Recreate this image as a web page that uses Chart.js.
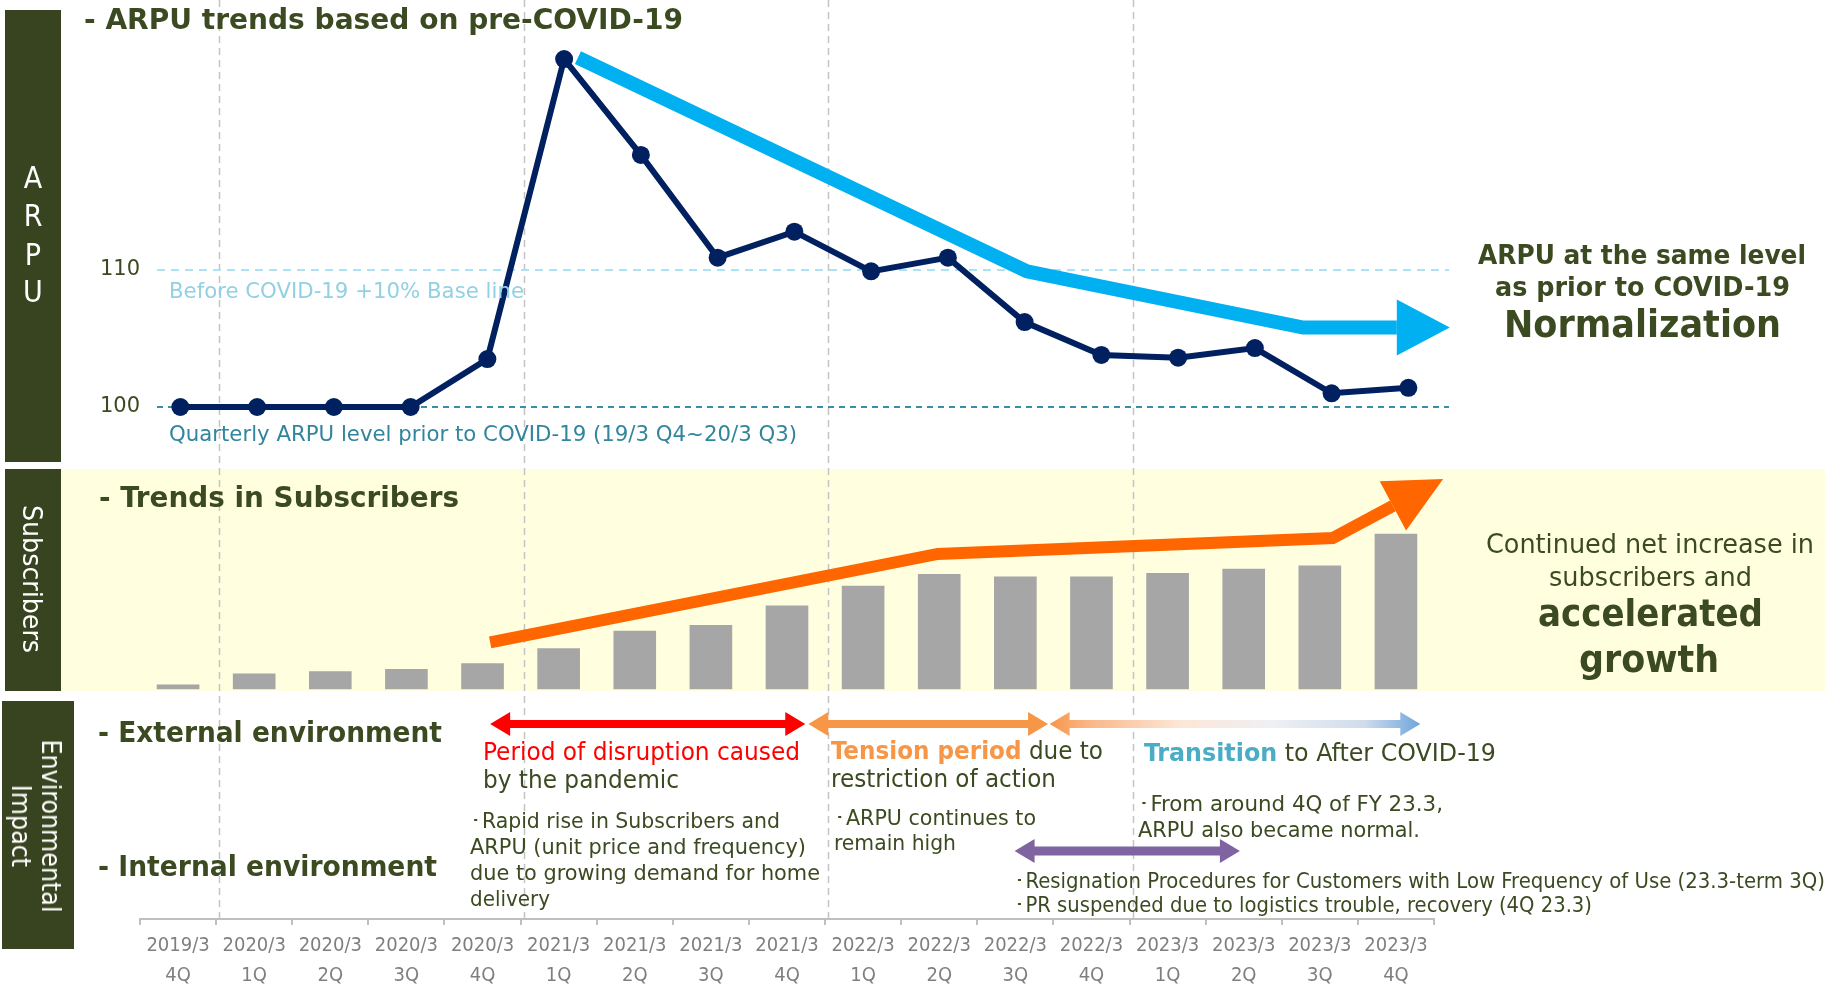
<!DOCTYPE html>
<html>
<head>
<meta charset="utf-8">
<script src="https://cdn.jsdelivr.net/npm/chart.js@4.4.1/dist/chart.umd.min.js"></script>
<style>
  html, body { margin: 0; padding: 0; background: #ffffff; }
  #wrap { position: relative; width: 1825px; height: 986px; overflow: hidden; background: #ffffff; }
  #c { position: absolute; left: 0; top: 0; }
  .t { position: absolute; white-space: nowrap; font-family: "DejaVu Sans Condensed", "DejaVu Sans", sans-serif; color: #3b4a20; line-height: 1.2; }
  .box { position: absolute; background: #384320; }
</style>
</head>
<body>
<div id="wrap">
  <div class="box" style="left:5px;top:10px;width:56px;height:452px;"></div>
  <div class="box" style="left:5px;top:469px;width:56px;height:222px;"></div>
  <div class="box" style="left:2px;top:701px;width:72px;height:248px;"></div>
  <canvas id="c" width="1825" height="986" style="width:1825px;height:986px;"></canvas>
</div>
<script>
// ---------------- DATA ----------------
const fiscalYears = ["2019/3","2020/3","2020/3","2020/3","2020/3","2021/3","2021/3","2021/3","2021/3","2022/3","2022/3","2022/3","2022/3","2023/3","2023/3","2023/3","2023/3"];
const quarters    = ["4Q","1Q","2Q","3Q","4Q","1Q","2Q","3Q","4Q","1Q","2Q","3Q","4Q","1Q","2Q","3Q","4Q"];
// ARPU index (pre-COVID-19 quarterly level = 100)
const arpuIndex = [100, 100, 100, 100, 103.5, 125.4, 118.4, 110.9, 112.8, 109.9, 110.9, 106.2, 103.8, 103.6, 104.3, 101.0, 101.4];
// Subscribers, relative index (2023/3 4Q = 100)
const subscribersIndex = [2.6, 9.7, 11.2, 12.7, 16.4, 26.1, 37.3, 41.0, 53.7, 66.4, 73.9, 72.4, 72.4, 74.6, 77.4, 79.4, 100];
const arpuBaseLevel = 100;      // quarterly ARPU level prior to COVID-19
const arpuPlus10Level = 110;    // before COVID-19 +10% base line
const arpuTicks = [100, 110];

// ---------------- ANNOTATION GEOMETRY (in scale units) ----------------
const arpuTrend = [[5.18, 125.5], [11.03, 109.9], [14.63, 105.8], [16.54, 105.8]];   // xa / ya
const subsTrend = [[4.10, 30.0], [9.98, 87.1], [15.17, 97.4], [16.62, 135.5]];       // x / ys
const periodArrows = [
  { from: 4.10, to: 8.24, y: 724, color: '#ff0000' },
  { from: 8.28, to: 11.43, y: 724, color: '#f79646' },
  { from: 11.45, to: 16.32, y: 724, gradient: true },
  { from: 10.99, to: 13.95, y: 851, color: '#8064a2', shaft: 9 }
];

const FONT = '"DejaVu Sans Condensed", "DejaVu Sans", sans-serif';
const labels = fiscalYears.map((y, i) => [y, quarters[i]]);
const yearStarts = quarters.map((q, i) => (q === '1Q' ? i : -1)).filter(i => i > 0);

function arrowPath(c, pts, width, color, headLen, headHalf) {
  const n = pts.length;
  const [tx, ty] = pts[n - 1], [px, py] = pts[n - 2];
  const L = Math.hypot(tx - px, ty - py);
  const ux = (tx - px) / L, uy = (ty - py) / L;
  const bx = tx - ux * headLen, by = ty - uy * headLen;
  c.save();
  c.strokeStyle = color; c.fillStyle = color; c.lineWidth = width;
  c.lineJoin = 'miter'; c.lineCap = 'butt'; c.setLineDash([]);
  c.beginPath();
  c.moveTo(pts[0][0], pts[0][1]);
  for (let i = 1; i < n - 1; i++) c.lineTo(pts[i][0], pts[i][1]);
  c.lineTo(bx, by);
  c.stroke();
  c.beginPath();
  c.moveTo(tx, ty);
  c.lineTo(bx - uy * headHalf, by + ux * headHalf);
  c.lineTo(bx + uy * headHalf, by - ux * headHalf);
  c.closePath();
  c.fill();
  c.restore();
}

function doubleArrow(c, x1, x2, y, shaft, hh, hl, fill) {
  c.save();
  c.fillStyle = fill;
  c.beginPath();
  c.moveTo(x1, y);
  c.lineTo(x1 + hl, y - hh);
  c.lineTo(x1 + hl, y - shaft / 2);
  c.lineTo(x2 - hl, y - shaft / 2);
  c.lineTo(x2 - hl, y - hh);
  c.lineTo(x2, y);
  c.lineTo(x2 - hl, y + hh);
  c.lineTo(x2 - hl, y + shaft / 2);
  c.lineTo(x1 + hl, y + shaft / 2);
  c.lineTo(x1 + hl, y + hh);
  c.closePath();
  c.fill();
  c.restore();
}

const decor = {
  id: 'decor',
  beforeDraw(chart) {
    const c = chart.ctx;
    c.save();
    c.fillStyle = '#ffffe0';
    c.fillRect(61, 469, chart.width - 61, 222);
    c.restore();
  },
  beforeDatasetsDraw(chart) {
    const c = chart.ctx, x = chart.scales.x, ya = chart.scales.ya, a = chart.chartArea;
    c.save();
    c.strokeStyle = '#c4c4c4'; c.lineWidth = 1.5; c.setLineDash([7, 5]);
    yearStarts.forEach(k => {
      const px = Math.round(x.getPixelForValue(k - 0.5)) + 3.5;
      c.beginPath(); c.moveTo(px, 0); c.lineTo(px, a.bottom); c.stroke();
    });
    const refs = [
      { v: arpuPlus10Level, color: '#a8e4f7', dash: [8, 6] },
      { v: arpuBaseLevel, color: '#3a8ea6', dash: [6, 5] }
    ];
    refs.forEach(r => {
      const py = ya.getPixelForValue(r.v);
      c.strokeStyle = r.color; c.lineWidth = 2; c.setLineDash(r.dash);
      c.beginPath(); c.moveTo(a.left + 17, py); c.lineTo(a.right + 15, py); c.stroke();
    });
    c.restore();
  },
  afterDatasetsDraw(chart) {
    const c = chart.ctx, s = chart.scales;
    const cyanPts = arpuTrend.map(([i, v]) => [s.xa.getPixelForValue(i), s.ya.getPixelForValue(v)]);
    arrowPath(c, cyanPts, 14, '#00b0f0', 53, 28);
    const orPts = subsTrend.map(([i, v]) => [s.x.getPixelForValue(i), s.ys.getPixelForValue(v)]);
    arrowPath(c, orPts, 12, '#ff6600', 57, 28);
    periodArrows.forEach(p => {
      const x1 = s.x.getPixelForValue(p.from), x2 = s.x.getPixelForValue(p.to);
      let fill = p.color;
      if (p.gradient) {
        const g = c.createLinearGradient(x1, 0, x2, 0);
        g.addColorStop(0, '#f79646');
        g.addColorStop(0.1, '#f9b585');
        g.addColorStop(0.35, '#fde6d6');
        g.addColorStop(0.6, '#eef0f4');
        g.addColorStop(0.85, '#cfdcec');
        g.addColorStop(1, '#6fa6dc');
        fill = g;
      }
      doubleArrow(c, x1, x2, p.y, p.shaft || 8, 12, 20, fill);
    });
  }
};

function noPad(sc) { sc.paddingTop = 0; sc.paddingBottom = 0; sc.paddingLeft = 0; sc.paddingRight = 0; }

new Chart(document.getElementById('c').getContext('2d'), {
  type: 'line',
  data: {
    labels: labels,
    datasets: [
      {
        type: 'bar', label: 'Subscribers',
        data: subscribersIndex,
        xAxisID: 'x', yAxisID: 'ys', grouped: false,
        backgroundColor: '#a6a6a6', barThickness: 42, order: 1
      },
      {
        type: 'line', label: 'ARPU',
        data: arpuIndex.map((v, i) => ({ x: i, y: v })),
        xAxisID: 'xa', yAxisID: 'ya',
        borderColor: '#002060', borderWidth: 6, fill: false,
        pointRadius: 9, pointBackgroundColor: '#002060', pointBorderWidth: 0,
        tension: 0, clip: false, order: 0
      }
    ]
  },
  options: {
    responsive: false, animation: false, devicePixelRatio: 1,
    layout: { autoPadding: false, padding: { left: 0, right: 391, top: 0, bottom: 0 } },
    plugins: { legend: { display: false }, tooltip: { enabled: false } },
    scales: {
      x: {
        type: 'category', position: 'bottom', offset: true,
        grid: { display: true, drawOnChartArea: false, drawTicks: true, tickLength: 6, color: '#bfbfbf', lineWidth: 2, offset: true },
        border: { display: true, color: '#bfbfbf', width: 2 },
        ticks: { color: '#7f7f7f', font: { family: FONT, size: 20, lineHeight: 1.5 }, padding: 6, maxRotation: 0, autoSkip: false },
        afterFit(sc) { sc.height = 67; noPad(sc); }
      },
      xa: { type: 'linear', display: false, offset: false, bounds: 'data', min: -0.526, max: 16.334, afterFit: noPad },
      ya: {
        type: 'linear', position: 'left', min: 62.628, max: 129.708,
        grid: { display: false, drawTicks: false }, border: { display: false },
        ticks: { color: '#3b4a20', font: { family: '"DejaVu Sans", sans-serif', size: 21 }, padding: 0 },
        afterBuildTicks(sc) { sc.ticks = arpuTicks.map(v => ({ value: v })); },
        afterFit(sc) { sc.width = 140; noPad(sc); }
      },
      ys: { type: 'linear', display: false, min: -148.4, max: 444.5, afterFit: noPad }
    }
  },
  plugins: [decor]
});

// ---------------- TEXT OVERLAY ----------------
const wrap = document.getElementById('wrap');
function addText(html, o) {
  const d = document.createElement('div');
  d.className = 't';
  d.innerHTML = html;
  d.style.fontSize = o.size + 'px';
  if (o.bold) d.style.fontWeight = 'bold';
  if (o.color) d.style.color = o.color;
  wrap.appendChild(d);
  const r = d.getBoundingClientRect();
  const sx = o.w ? o.w / r.width : 1;
  const left = o.align === 'center' ? o.x - r.width * sx / 2 : o.x;
  d.style.left = left + 'px';
  d.style.top = (o.y - r.height / 2) + 'px';
  d.style.transformOrigin = '0 50%';
  d.style.transform = 'scaleX(' + sx + ')';
}
function addRot(html, o) {
  const d = document.createElement('div');
  d.className = 't';
  d.innerHTML = html;
  d.style.fontSize = o.size + 'px';
  d.style.color = o.color;
  d.style.textAlign = 'center';
  d.style.lineHeight = o.lh + 'px';
  wrap.appendChild(d);
  const r = d.getBoundingClientRect();
  const sx = o.len ? o.len / r.width : 1;
  d.style.left = o.x + 'px';
  d.style.top = o.y + 'px';
  d.style.transformOrigin = '0 0';
  d.style.transform = 'rotate(90deg) scaleX(' + sx + ') translate(-50%, -50%)';
}

// Left labels
['A', 'R', 'P', 'U'].forEach((ch, i) => addText(ch, { x: 33, y: [178, 216, 255, 292][i], size: 30, color: '#ffffff', align: 'center' }));
addRot('Subscribers', { x: 32, y: 579, size: 26, lh: 30, len: 148, color: '#ffffff' });
addRot('Environmental<br>Impact', { x: 36, y: 826, size: 26, lh: 30, len: 173, color: '#ffffff' });

// Section titles
addText('- ARPU trends based on pre-COVID-19', { x: 84, y: 19, size: 29, bold: true, w: 599 });
addText('- Trends in Subscribers', { x: 99, y: 497, size: 29, bold: true, w: 360 });
addText('- External environment', { x: 98, y: 733, size: 28, bold: true, w: 344 });
addText('- Internal environment', { x: 98, y: 867, size: 28, bold: true, w: 339 });

// Reference line labels
addText('Before COVID-19 +10% Base line', { x: 169, y: 291, size: 22, color: '#92d0e4', w: 355 });
addText('Quarterly ARPU level prior to COVID-19 (19/3 Q4~20/3 Q3)', { x: 169, y: 434, size: 22, color: '#31859c', w: 628 });

// Right-hand messages
addText('ARPU at the same level', { x: 1642, y: 256, size: 26, bold: true, w: 328, align: 'center' });
addText('as prior to COVID-19', { x: 1642, y: 288, size: 26, bold: true, w: 295, align: 'center' });
addText('Normalization', { x: 1642, y: 325, size: 37, bold: true, w: 277, align: 'center' });
addText('Continued net increase in', { x: 1650, y: 545, size: 26, w: 328, align: 'center' });
addText('subscribers and', { x: 1650, y: 578, size: 26, w: 203, align: 'center' });
addText('accelerated', { x: 1650, y: 614, size: 38, bold: true, w: 225, align: 'center' });
addText('growth', { x: 1649, y: 660, size: 38, bold: true, w: 140, align: 'center' });

// External environment periods
addText('<span style="color:#ff0000">Period of disruption caused</span>', { x: 483, y: 752, size: 24, w: 317 });
addText('by the pandemic', { x: 483, y: 780, size: 24, w: 196 });
addText('<span style="color:#f79646;font-weight:bold">Tension period</span> due to', { x: 831, y: 751, size: 24, w: 272 });
addText('restriction of action', { x: 831, y: 779, size: 24, w: 225 });
addText('<span style="color:#4bacc6;font-weight:bold">Transition</span> to After COVID-19', { x: 1144, y: 753, size: 24, w: 352 });

// Internal environment notes
addText('･Rapid rise in Subscribers and', { x: 470, y: 822, size: 21, w: 310 });
addText('ARPU (unit price and frequency)', { x: 470, y: 848, size: 21, w: 336 });
addText('due to growing demand for home', { x: 470, y: 874, size: 21, w: 350 });
addText('delivery', { x: 470, y: 900, size: 21, w: 80 });
addText('･ARPU continues to', { x: 834, y: 819, size: 21, w: 202 });
addText('remain high', { x: 834, y: 844, size: 21, w: 122 });
addText('･From around 4Q of FY 23.3,', { x: 1138, y: 805, size: 21, w: 305 });
addText('ARPU also became normal.', { x: 1138, y: 831, size: 21, w: 282 });
addText('･Resignation Procedures for Customers with Low Frequency of Use (23.3-term 3Q)', { x: 1014, y: 882, size: 21, w: 811 });
addText('･PR suspended due to logistics trouble, recovery (4Q 23.3)', { x: 1014, y: 906, size: 21, w: 578 });
</script>
</body>
</html>
